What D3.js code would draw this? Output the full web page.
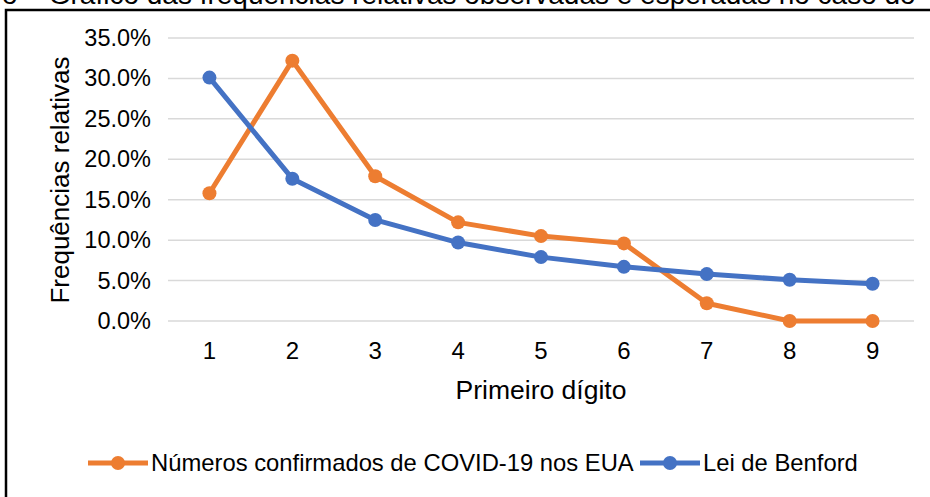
<!DOCTYPE html>
<html>
<head>
<meta charset="utf-8">
<script src="https://cdn.jsdelivr.net/npm/d3@7"></script>
<style>
  body { margin: 0; background: #fff; }
  svg { display: block; font-family: "Liberation Sans", Arial, sans-serif; }
</style>
</head>
<body>
<div id="chart"></div>
<script>
'use strict';

var digits = ['1', '2', '3', '4', '5', '6', '7', '8', '9'];
var covidValues = [15.8, 32.2, 17.9, 12.2, 10.5, 9.6, 2.2, 0.0, 0.0];
var benfordValues = [30.1, 17.6, 12.5, 9.7, 7.9, 6.7, 5.8, 5.1, 4.6];
var yTicks = [0, 5, 10, 15, 20, 25, 30, 35];
var seriesNames = ['Números confirmados de COVID-19 nos EUA', 'Lei de Benford'];
var seriesColors = ['#ED7D31', '#4472C4'];

var width = 930, height = 497;
var svg = d3.select('#chart').append('svg')
  .attr('width', width)
  .attr('height', height);

// caption above the frame, cropped like in the source image
svg.append('text')
  .attr('x', 2)
  .attr('y', 4)
  .attr('font-size', 28)
  .attr('fill', '#000')
  .text('o – Gráfico das frequências relativas observadas e esperadas no caso do');

// outer frame (cut on right/bottom)
svg.append('path')
  .attr('d', 'M6,' + height + 'V10H' + width)
  .attr('fill', 'none')
  .attr('stroke', '#000')
  .attr('stroke-width', 2.5);

var x = d3.scaleBand().domain(digits).range([168, 914]);
var y = d3.scaleLinear().domain([0, 35]).range([321, 38]);

// gridlines
svg.append('g').selectAll('line')
  .data(yTicks)
  .enter()
  .append('line')
  .attr('x1', 168)
  .attr('x2', 914)
  .attr('y1', function(d) { return y(d); })
  .attr('y2', function(d) { return y(d); })
  .attr('stroke', '#d9d9d9')
  .attr('stroke-width', 1.5);

var yAxis = svg.append('g')
  .attr('transform', 'translate(160,0)')
  .call(d3.axisLeft(y).tickValues(yTicks).tickSize(0).tickPadding(9)
    .tickFormat(function(d) { return d.toFixed(1) + '%'; }));
yAxis.select('.domain').remove();
yAxis.selectAll('text')
  .attr('font-size', 23.5)
  .attr('font-family', '"Liberation Sans", Arial, sans-serif')
  .attr('fill', '#000');

var xAxis = svg.append('g')
  .attr('transform', 'translate(0,321)')
  .call(d3.axisBottom(x).tickSize(0).tickPadding(21));
xAxis.select('.domain').remove();
xAxis.selectAll('text')
  .attr('font-size', 24)
  .attr('font-family', '"Liberation Sans", Arial, sans-serif')
  .attr('fill', '#000');

svg.append('text')
  .attr('x', 541)
  .attr('y', 399)
  .attr('text-anchor', 'middle')
  .attr('font-size', 26.5)
  .text('Primeiro dígito');

svg.append('text')
  .attr('transform', 'translate(69,180) rotate(-90)')
  .attr('text-anchor', 'middle')
  .attr('font-size', 26)
  .text('Frequências relativas');

var line = d3.line()
  .x(function(d, i) { return x(digits[i]) + x.bandwidth() / 2; })
  .y(function(d) { return y(d); });

[covidValues, benfordValues].forEach(function(values, s) {
  var g = svg.append('g');
  g.append('path')
    .datum(values)
    .attr('d', line)
    .attr('fill', 'none')
    .attr('stroke', seriesColors[s])
    .attr('stroke-width', 5)
    .attr('stroke-linejoin', 'round');
  g.selectAll('circle')
    .data(values)
    .enter()
    .append('circle')
    .attr('cx', function(d, i) { return x(digits[i]) + x.bandwidth() / 2; })
    .attr('cy', function(d) { return y(d); })
    .attr('r', 7)
    .attr('fill', seriesColors[s]);
});

// legend
var legendX = [88, 640];
seriesNames.forEach(function(name, s) {
  var lg = svg.append('g').attr('transform', 'translate(' + legendX[s] + ',463)');
  lg.append('line')
    .attr('x1', 0).attr('x2', 60)
    .attr('stroke', seriesColors[s])
    .attr('stroke-width', 5);
  lg.append('circle')
    .attr('cx', 30).attr('r', 7)
    .attr('fill', seriesColors[s]);
  lg.append('text')
    .attr('x', 63)
    .attr('y', 8)
    .attr('font-size', 23.8)
    .text(name);
});
</script>
</body>
</html>
